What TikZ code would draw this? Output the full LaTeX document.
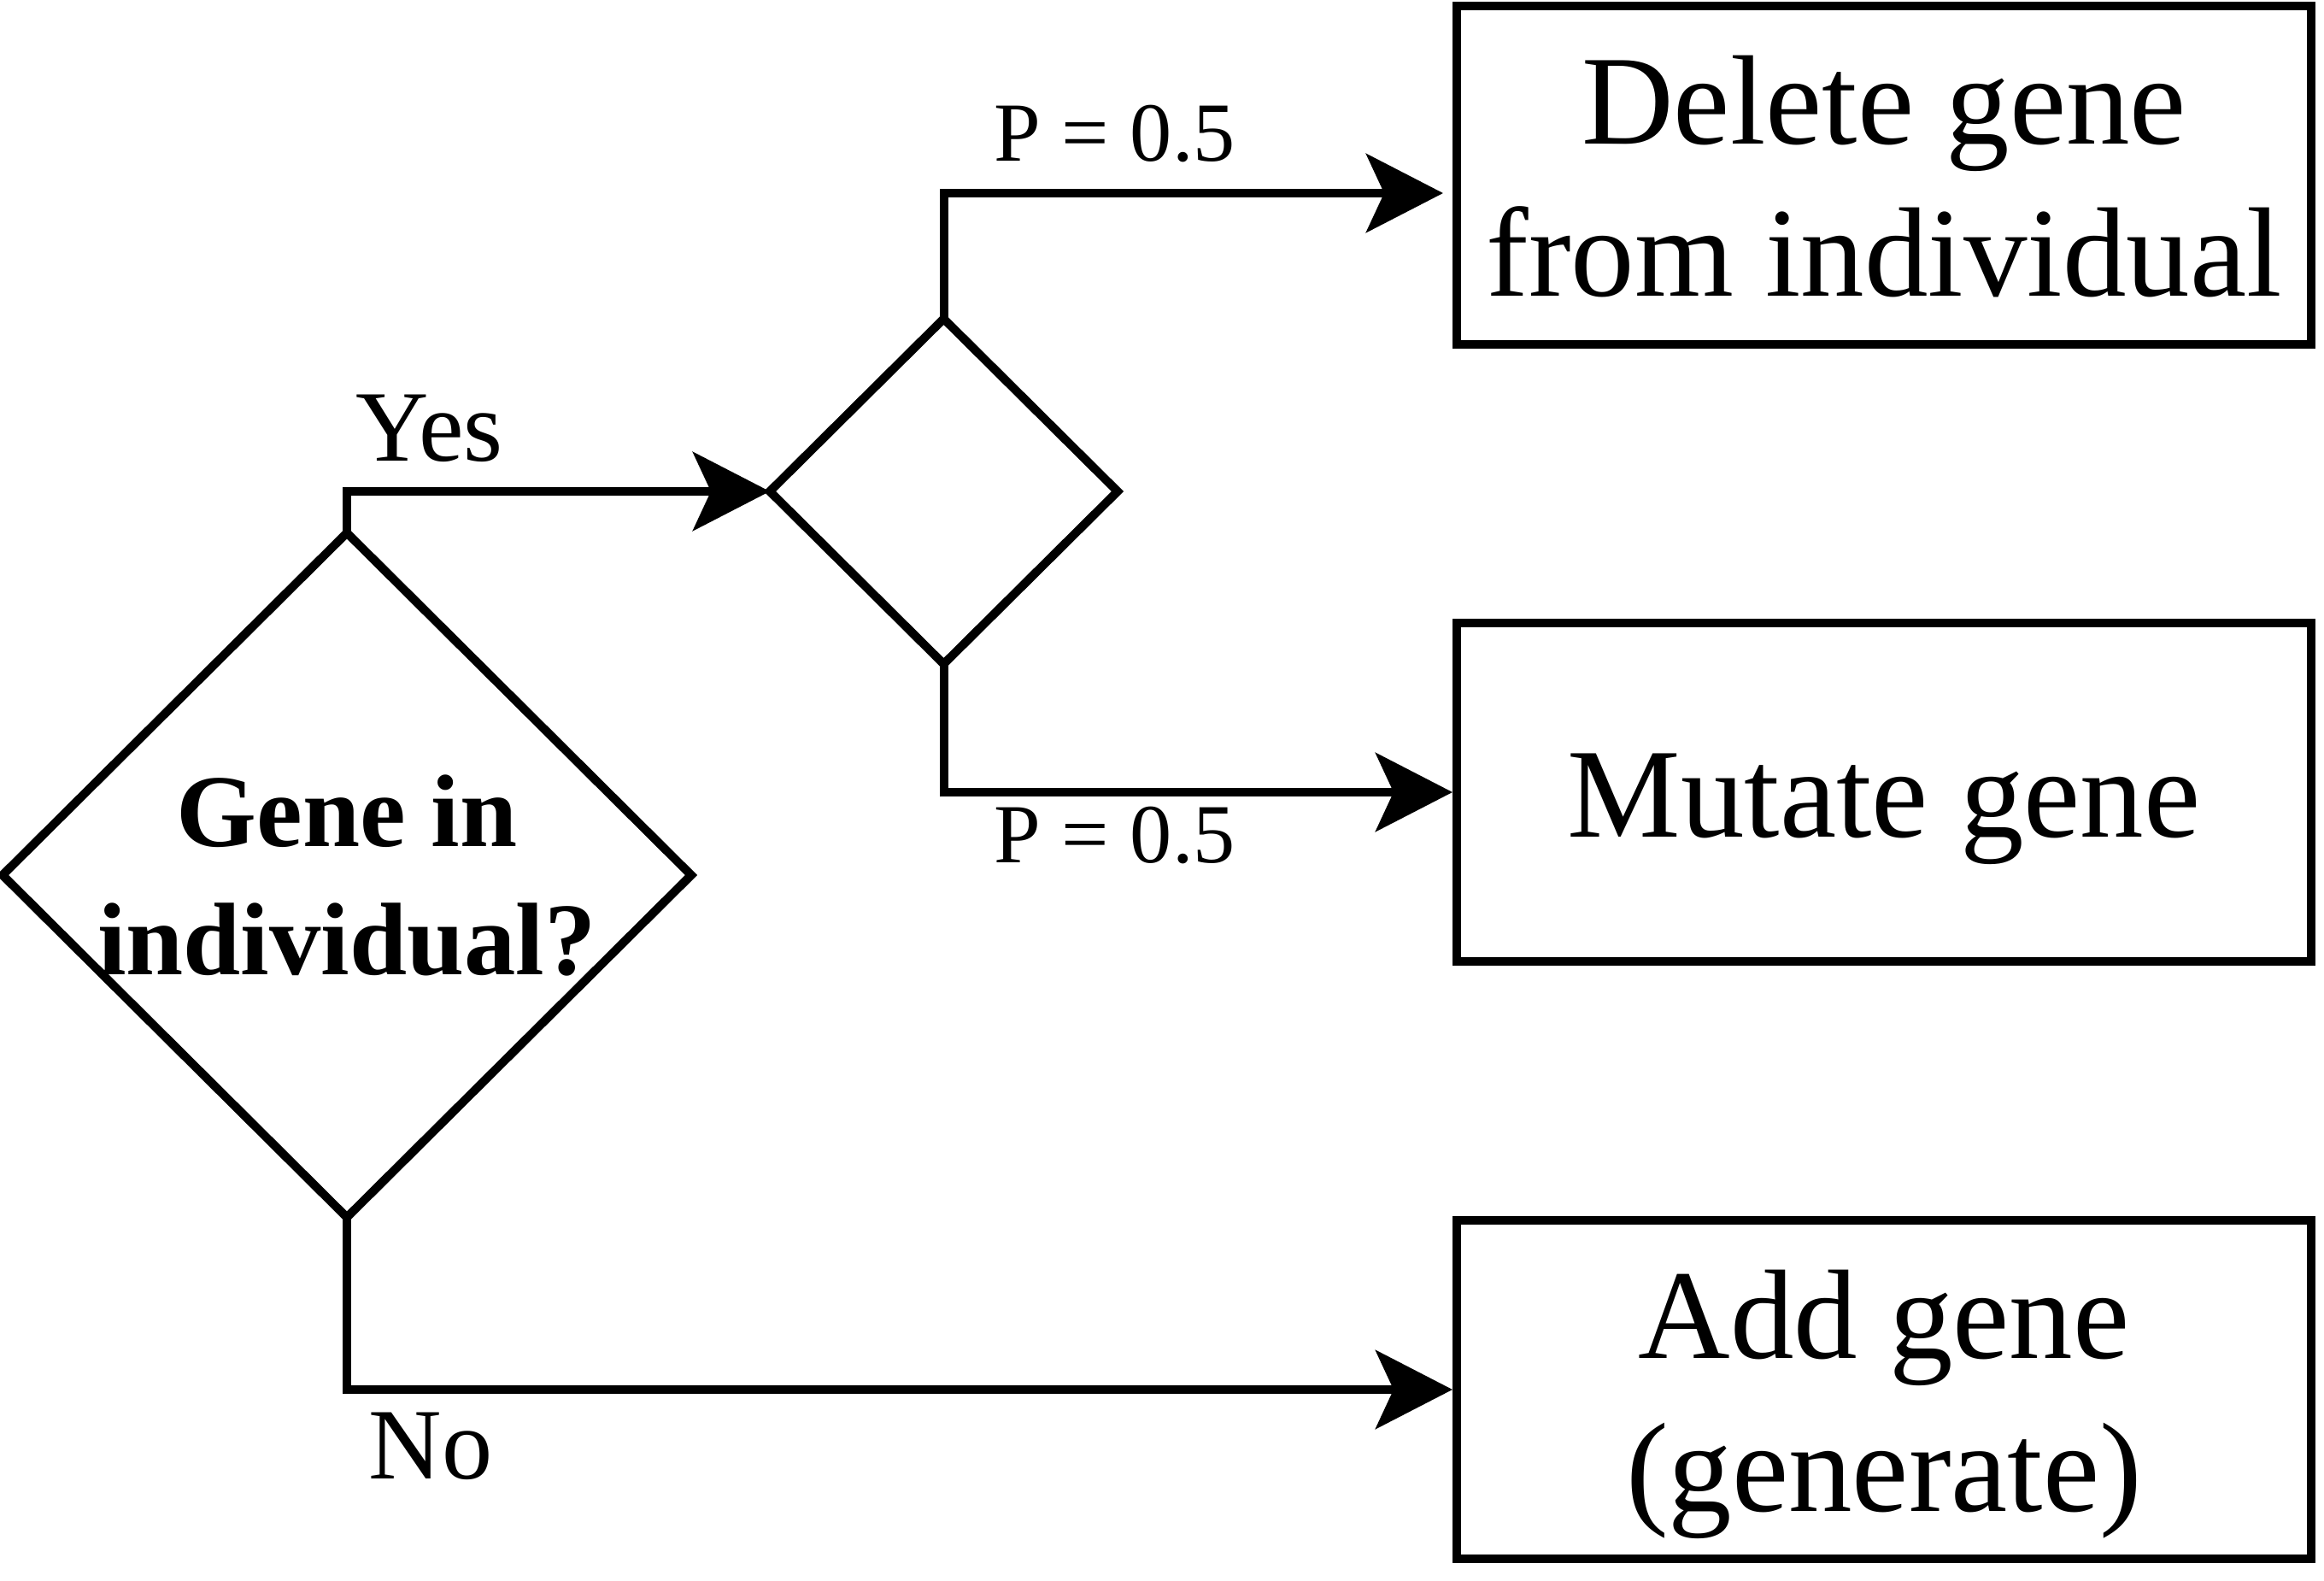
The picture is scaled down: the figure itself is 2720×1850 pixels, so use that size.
\documentclass[tikz,border=0pt]{standalone}
\usepackage{fontspec}
\setmainfont{Liberation Serif}
\usetikzlibrary{shapes.geometric,arrows.meta}
\newcommand{\twoline}[2]{\begin{tabular}[t]{@{}c@{}}#1\\#2\end{tabular}}
\begin{document}
\begin{tikzpicture}[x=0.3pt,y=-0.3pt,
  box/.style={draw, line width=3pt, minimum width=300pt, minimum height=118.8pt,
    inner sep=0pt, font=\fontsize{44.7}{53.6}\selectfont},
  twobox/.style={box, text height=0pt, text depth=22pt},
  onebox/.style={box, text height=31.2pt, text depth=0pt},
  dia/.style={draw, diamond, line width=3pt, inner sep=0pt, outer sep=0pt, line join=miter},
  conn/.style={line width=3pt, line join=miter, -{Stealth[length=27pt,width=27.6pt,inset=6.3pt]}},
  lab/.style={inner sep=0pt, anchor=base west},
  yn/.style={lab, font=\fontsize{35.5}{42}\selectfont},
  pl/.style={lab, font=\fontsize{29.5}{35}\selectfont},
]
\useasboundingbox (0,0) rectangle (2720,1850);

% decision shapes
\node[dia, minimum width=241.8pt, minimum height=240.3pt,
      font=\bfseries\fontsize{36.2}{45}\selectfont, text height=0pt, text depth=20pt]
      (d1) at (406,1024) {\twoline{Gene in}{individual?}};
\node[dia, minimum width=122.1pt, minimum height=121.2pt] (d2) at (1104.5,575) {};

% result boxes
\node[twobox] (b1) at (2205,205) {\twoline{Delete gene}{from individual}};
\node[onebox] (b2) at (2205,927) {Mutate gene};
\node[twobox] (b3) at (2205,1626) {\twoline{Add gene}{(generate)}};

\coordinate (t1) at (1689,226);

% connectors
\draw[conn] (d1.north) |- (d2.west);
\draw[conn] (d2.north) |- (t1);
\draw[conn] (d2.south) |- (b2.west);
\draw[conn] (d1.south) |- (b3.west);

% labels
\node[yn] (yes) at (416,539) {Yes};
\node[yn] (no) at (431,1730) {No};
\node[pl] (p1) at (1163,189) {P = 0.5};
\node[pl] (p2) at (1163,1009) {P = 0.5};
\end{tikzpicture}
\end{document}
